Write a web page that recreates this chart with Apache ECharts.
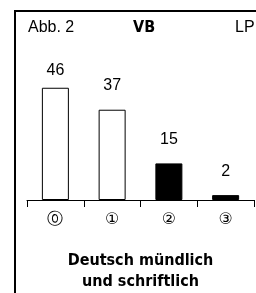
<!DOCTYPE html>
<html>
<head>
<meta charset="utf-8">
<script src="https://cdn.jsdelivr.net/npm/echarts@6/dist/echarts.min.js"></script>
<style>
html,body{margin:0;padding:0;background:#fff;}
#c{width:256px;height:293px;}
</style>
</head>
<body>
<div id="c"></div>
<script>
var categories = ['\u24EA', '\u2460', '\u2461', '\u2462'];
var values = [46, 37, 15, 2];
var fills = ['#ffffff', '#ffffff', '#000000', '#000000'];
var headerLeft = 'Abb. 2';
var headerMid = 'VB';
var headerRight = 'LP';
var axisTitle = 'Deutsch mündlich\nund schriftlich';

var chart = echarts.init(document.getElementById('c'), null, {renderer: 'canvas'});
var data = values.map(function (v, i) {
  return {
    value: v,
    itemStyle: {color: fills[i], borderColor: '#000', borderWidth: 1},
    label: {distance: i === 0 ? 9 : 16}
  };
});
chart.setOption({
  animation: false,
  backgroundColor: '#fff',
  grid: {left: 27, right: 2, top: 78, bottom: 93},
  xAxis: {
    type: 'category',
    data: categories,
    axisLine: {lineStyle: {color: '#000', width: 1}},
    axisTick: {show: true, length: 7, lineStyle: {color: '#000', width: 1}},
    axisLabel: {color: '#000', fontSize: 16, margin: 12, fontFamily: 'DejaVu Sans'},
    name: axisTitle,
    nameLocation: 'middle',
    nameGap: 50,
    nameTextStyle: {color: '#000', fontSize: 16, fontWeight: 'bold', fontFamily: '"DejaVu Sans Condensed", "Liberation Sans"', lineHeight: 21}
  },
  yAxis: {
    type: 'value', min: 0, max: 50, show: false,
    splitLine: {show: false}
  },
  series: [{
    type: 'bar',
    data: data,
    barWidth: 27,
    label: {show: true, position: 'top', color: '#000', fontSize: 16, fontFamily: 'Liberation Sans'}
  }],
  graphic: [
    {type: 'polyline', shape: {points: [[15, 293], [15, 11], [256, 11]]}, style: {stroke: '#000', lineWidth: 2, fill: null}},
    {type: 'text', left: 28, top: 20, style: {text: headerLeft, fontSize: 16, fontFamily: 'Liberation Sans', fill: '#000'}},
    {type: 'text', left: 133, top: 20, style: {text: headerMid, fontSize: 16, fontWeight: 'bold', fontFamily: '"DejaVu Sans Condensed", "Liberation Sans"', fill: '#000'}},
    {type: 'text', left: 235, top: 20, style: {text: headerRight, fontSize: 16, fontFamily: 'Liberation Sans', fill: '#000'}}
  ]
});
</script>
</body>
</html>
